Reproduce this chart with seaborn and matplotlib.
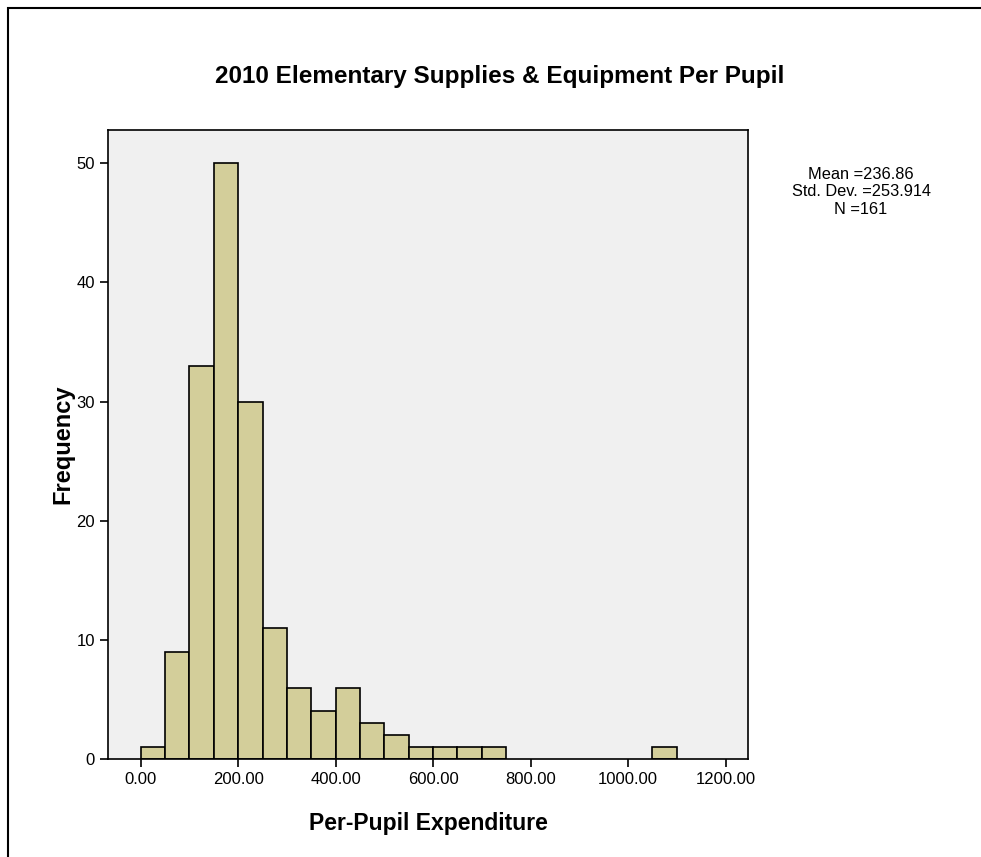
import matplotlib
matplotlib.use('Agg')
import matplotlib.pyplot as plt
import pandas as pd
import seaborn as sns
from matplotlib.patches import Rectangle

# Histogram data (bin width 50)
bin_lefts = [0, 50, 100, 150, 200, 250, 300, 350, 400, 450, 500, 550, 600, 650, 700, 1050]
counts = [1, 9, 33, 50, 30, 11, 6, 4, 6, 3, 2, 1, 1, 1, 1, 1]
x_ticks = [0, 200, 400, 600, 800, 1000, 1200]
y_ticks = [0, 10, 20, 30, 40, 50]
stats_lines = ['Mean =236.86', 'Std. Dev. =253.914', 'N =161']

sns.set_style('white')
plt.rcParams['font.family'] = ['Liberation Sans', 'DejaVu Sans']
plt.rcParams['text.color'] = 'black'
plt.rcParams['axes.labelcolor'] = 'black'
plt.rcParams['xtick.color'] = 'black'
plt.rcParams['ytick.color'] = 'black'

df = pd.DataFrame({'value': [b + 25 for b in bin_lefts], 'count': counts})

fig = plt.figure(figsize=(9.81, 8.57), dpi=100)
ax = fig.add_axes([108 / 981, 1 - 759 / 857, 640 / 981, 629 / 857])
ax.set_facecolor('#f0f0f0')

sns.histplot(data=df, x='value', weights='count', binwidth=50, binrange=(0, 1100),
             ax=ax, color='#d3ce9a', alpha=1, edgecolor='black', linewidth=1.2)
# drop empty bins so they draw no edges
for p in list(ax.patches):
    if p.get_height() == 0:
        p.remove()

ax.set_xlim(-67, 1246)
ax.set_ylim(0, 52.8)
ax.set_xticks(x_ticks)
ax.set_xticklabels(['%.2f' % t for t in x_ticks])
ax.set_yticks(y_ticks)
ax.tick_params(axis='both', direction='out', length=6, width=1.2,
               labelsize=12, color='black', labelcolor='black', bottom=True, left=True)
for s in ax.spines.values():
    s.set_color('black')
    s.set_linewidth(1.2)

ax.set_xlabel('Per-Pupil Expenditure', fontsize=16.5, fontweight='bold', labelpad=18)
ax.set_ylabel('Frequency', fontsize=17, fontweight='bold', labelpad=1)
fig.text(500 / 981, 1 - 77 / 857, '2010 Elementary Supplies & Equipment Per Pupil',
         ha='center', va='center', fontsize=17.5, fontweight='bold')
fig.text(861 / 981, 1 - 192 / 857, '\n'.join(stats_lines), ha='center', va='center',
         fontsize=11.8, linespacing=1.2)

# outer frame
fig.patches.append(Rectangle((8 / 981, -0.1), 1.2, 1 - 8 / 857 + 0.1,
                             transform=fig.transFigure, fill=False,
                             edgecolor='black', linewidth=1.5))

fig.savefig('out.png', dpi=100)
